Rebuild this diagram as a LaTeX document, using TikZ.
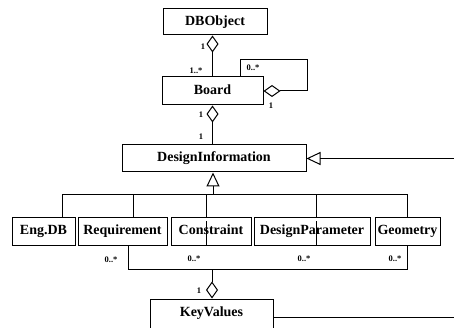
\documentclass[tikz,border=0pt]{standalone}
\usepackage{fontspec}
\setmainfont{Liberation Serif}
\usetikzlibrary{arrows.meta}

\tikzset{
  cls/.style={draw, line width=1pt, inner sep=0pt, minimum height=27pt,
    text height=9.5pt, text depth=3pt,
    font=\bfseries\fontsize{14}{14}\selectfont},
  mult/.style={font=\bfseries\fontsize{8.5}{9}\selectfont, inner sep=0pt},
  aggstart/.style={{Diamond[open,length=17pt,width=12pt,line width=1pt]}-},
  aggend/.style={-{Diamond[open,length=17pt,width=12pt,line width=1pt]}},
  inherit/.style={-{Triangle[open,length=14pt,width=13pt,line width=1pt]}}
}

\begin{document}
\begin{tikzpicture}[x=1pt, y=-1pt, line width=1pt]
		\useasboundingbox (0,0) rectangle (454,328);
		\coordinate (edge) at (454,0);
		\coordinate (genbar) at (213,195);
		\coordinate (keybar) at (212,269);

		\node[cls, minimum width=104pt, minimum height=26pt] (dbobject) at (215,22) {DBObject};
		\node[cls, minimum width=101pt, minimum height=28pt] (board) at (212.5,91) {Board};
		\node[cls, minimum width=184pt] (designinfo) at (214,158.5) {DesignInformation};

		\node[cls, minimum width=63pt] (engdb) at (43.5,231.5) {Eng.DB};
		\node[cls, minimum width=89pt] (requirement) at (122.5,231.5) {Requirement};
		\node[cls, minimum width=80pt] (constraint) at (211,231.5) {Constraint};
		\node[cls, minimum width=116pt] (designparam) at (312,231.5) {DesignParameter};
		\node[cls, minimum width=65pt] (geometry) at (407.5,231.5) {Geometry};

		\node[cls, minimum width=123pt, minimum height=29pt] (keyvalues) at (211.5,313.5) {KeyValues};

		% aggregations
		\draw[aggend] (board.north) -- (board.north |- dbobject.south);
		\node[mult] (m1) at (203,47) {1};
		\node[mult] (m2) at (196,71) {1..*};

		\draw[aggstart] (board.east) -- ++(44,0) -- ++(0,-31) -| ([xshift=28pt]board.north);
		\node[mult] (m3) at (253,68) {0..*};
		\node[mult] (m4) at (271,106) {1};

		\draw[aggstart] (board.south) -- (board.south |- designinfo.north);
		\node[mult] (m5) at (201,115) {1};
		\node[mult] (m6) at (201,137) {1};

		% generalization
		\draw[inherit] (genbar) -- (genbar |- designinfo.south);
		\draw ([xshift=18.5pt]engdb.north) |- (geometry.north |- genbar) -- (geometry.north);
		\draw ([xshift=10.5pt]requirement.north) -- ++(0,-23);
		\draw ([xshift=-5pt]constraint.north) -- ++(0,-23);
		\draw ([xshift=4pt]designparam.north) -- ++(0,-23);
		\draw[inherit] (designinfo.east -| edge) -- (designinfo.east);

		% key values
		\draw ([xshift=5.5pt]requirement.south) |- ([xshift=-0.5pt]geometry.south |- keybar) -- ([xshift=-0.5pt]geometry.south);
		\draw ([xshift=-5pt]constraint.south) -- ++(0,-24);
		\draw ([xshift=4pt]designparam.south) -- ++(0,-24);
		\draw[aggend] (keybar) -- (keybar |- keyvalues.north);
		\draw ([yshift=-3.5pt]keyvalues.east) -- ([yshift=-3.5pt]keyvalues.east -| edge);
		\node[mult] (m7) at (111,260) {0..*};
		\node[mult] (m8) at (194,259) {0..*};
		\node[mult] (m9) at (304,259) {0..*};
		\node[mult] (m10) at (395,259) {0..*};
		\node[mult] (m11) at (199,291) {1};
\end{tikzpicture}
\end{document}
